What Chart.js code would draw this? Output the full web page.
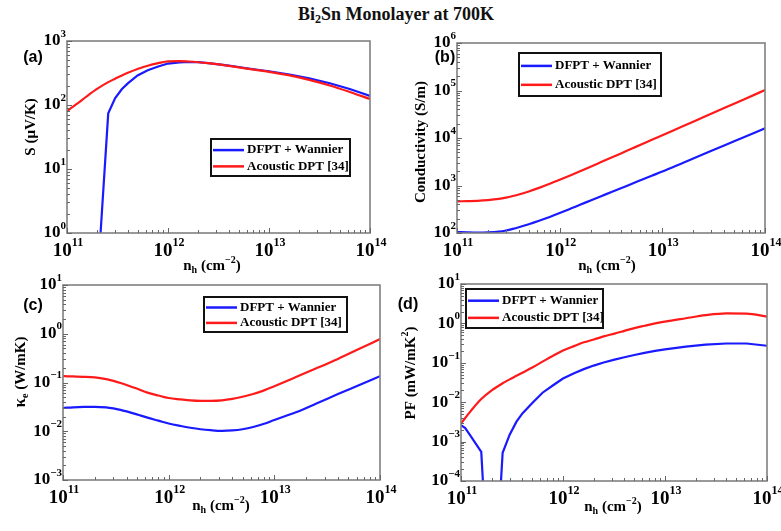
<!DOCTYPE html>
<html>
<head>
<meta charset="utf-8">
<script src="https://cdn.jsdelivr.net/npm/chart.js@4.4.0/dist/chart.umd.min.js"></script>
<style>
  body { margin: 0; background: #fff; width: 781px; height: 531px; overflow: hidden; position: relative; }
  canvas { position: absolute; left: 0; top: 0; }
  #title { position: absolute; left: 0; width: 792px; top: 4px; text-align: center;
           font: bold 18px "Liberation Serif", "Times New Roman", serif; line-height: 20px; color: #111; }
  #title sub { font-size: 12px; vertical-align: -3px; line-height: 0; }
</style>
</head>
<body>
<div id="title">Bi<sub>2</sub>Sn Monolayer at 700K</div>
<canvas id="panelA" width="781" height="531"></canvas>
<canvas id="panelB" width="781" height="531"></canvas>
<canvas id="panelC" width="781" height="531"></canvas>
<canvas id="panelD" width="781" height="531"></canvas>
<script>
// --- DATA (hole concentration in cm^-2) ---
const nh = [1e11, 1.1e11, 1.25e11, 1.58e11, 2.0e11, 2.56e11, 3.0e11, 3.5e11, 4e11, 5e11, 6.3e11, 8e11,
            1e12, 1.3e12, 1.6e12, 2e12, 2.5e12, 3.2e12, 4e12, 5e12, 6.3e12, 8e12,
            1e13, 1.6e13, 2.5e13, 4e13, 6.3e13, 1e14];

const seriesNames = ['DFPT + Wannier', 'Acoustic DPT [34]'];

// (a) Seebeck coefficient, uV/K
const seebeckDfpt = [null, null, null, null, 0.17, 74, 128, 178, 218, 290, 350, 400,
                     444, 462, 470, 466, 452, 432, 412, 392, 371, 352,
                     337, 300, 260, 219, 178, 139];
const seebeckDpt = [80, 90, 104, 138, 180, 228, 258, 290, 318, 365, 410, 450,
                    482, 485, 478, 466, 450, 430, 409, 388, 367, 347,
                    330, 290, 247, 202, 160, 124];

// (b) conductivity, S/m
const condDfpt = [105, 104, 103, 102, 103, 107, 113, 122, 132, 153, 181, 218,
                  263, 331, 398, 484, 589, 728, 885, 1079, 1318, 1622,
                  1968, 3020, 4540, 6950, 10520, 16000];
const condDpt = [464, 466, 469, 476, 492, 522, 556, 600, 646, 750, 891, 1084,
                 1318, 1671, 2023, 2483, 3069, 3882, 4797, 5929, 7379, 9268,
                 11455, 17906, 27353, 42756, 65766, 102000];

// (c) electronic thermal conductivity, W/mK
const keDfpt = [0.030, 0.0305, 0.031, 0.0315, 0.0316, 0.031, 0.0295, 0.0275, 0.0255, 0.0222, 0.0190, 0.0165,
                0.0144, 0.0128, 0.0118, 0.0110, 0.0105, 0.0102, 0.0104, 0.0110, 0.0122, 0.0142,
                0.0170, 0.0245, 0.037, 0.058, 0.088, 0.135];
const keDpt = [0.135, 0.134, 0.133, 0.131, 0.127, 0.117, 0.108, 0.098, 0.089, 0.075, 0.062, 0.054,
               0.048, 0.045, 0.043, 0.042, 0.042, 0.043, 0.046, 0.051, 0.058, 0.069,
               0.084, 0.129, 0.195, 0.305, 0.484, 0.776];

// (d) power factor, mW/mK^2
const pfDfpt = [2.6e-3, 2.2e-3, 1.35e-3, 5.5e-4, 1e-8, 5.2e-4, 1.5e-3, 3.2e-3, 5.2e-3, 9.5e-3, 0.0174, 0.0269,
                0.040, 0.055, 0.069, 0.085, 0.102, 0.120, 0.138, 0.158, 0.178, 0.200,
                0.219, 0.257, 0.288, 0.309, 0.309, 0.271];
const pfDpt = [0.00288, 0.00398, 0.00603, 0.0120, 0.0200, 0.0302, 0.0380, 0.0468, 0.0562, 0.0759, 0.107, 0.151,
               0.204, 0.269, 0.331, 0.389, 0.468, 0.550, 0.646, 0.759, 0.871, 1.0,
               1.11, 1.35, 1.62, 1.80, 1.78, 1.49];

const xExponents = [11, 12, 13, 14];

// --- STYLE ---
const W = 781, H = 531;
const SERIF = '"Liberation Serif", "Times New Roman", serif';
const BLUE = '#1a1aff';
const RED = '#ff1a1a';
const FRAME = '#808080';

// rich text: array of runs {t, s, dy}
function runsWidth(ctx, runs) {
    let w = 0;
    runs.forEach(r => { ctx.font = `bold ${r.s}px ${SERIF}`; w += ctx.measureText(r.t).width; });
    return w;
}
function drawRuns(ctx, runs, x, y, align, rotate) {
    ctx.save();
    ctx.translate(x, y);
    if (rotate) ctx.rotate(-Math.PI / 2);
    const w = runsWidth(ctx, runs);
    let cx = align === 'right' ? -w : align === 'left' ? 0 : -w / 2;
    ctx.textBaseline = 'middle';
    ctx.textAlign = 'left';
    ctx.fillStyle = '#000';
    runs.forEach(r => {
        ctx.font = `bold ${r.s}px ${SERIF}`;
        ctx.fillText(r.t, cx, r.dy || 0);
        cx += ctx.measureText(r.t).width;
    });
    ctx.restore();
}
function powRuns(e, big, small) {
    const ex = e < 0 ? '\u2212' + (-e) : String(e);
    return [{ t: '10', s: big }, { t: ex, s: small, dy: -big * 0.42 }];
}

const xTitle = [{ t: 'n', s: 15 }, { t: 'h', s: 10, dy: 4 }, { t: ' (cm', s: 15 }, { t: '\u22122', s: 10, dy: -6 }, { t: ')', s: 15 }];

const panels = [
    { id: 'panelA', area: { left: 67, top: 41, right: 370, bottom: 233 }, yExp: [0, 3], label: '(a)', labelPos: [33, 58],
      yTitle: [{ t: 'S (\u03bcV/K)', s: 15 }], yTitlePos: [31, 127], xTitlePos: [212, 266],
      legend: { x: 211, y: 139, w: 139, h: 37 }, blue: seebeckDfpt, red: seebeckDpt, blueSmooth: false },
    { id: 'panelB', area: { left: 457, top: 43, right: 765, bottom: 233 }, yExp: [2, 6], label: '(b)', labelPos: [445, 58],
      yTitle: [{ t: 'Conductivity (S/m)', s: 15 }], yTitlePos: [421, 142], xTitlePos: [607, 266],
      legend: { x: 519, y: 53, w: 142, h: 43 }, blue: condDfpt, red: condDpt, blueSmooth: true },
    { id: 'panelC', area: { left: 63, top: 285, right: 380, bottom: 480 }, yExp: [-3, 1], label: '(c)', labelPos: [33, 306],
      yTitle: [{ t: '\u03ba', s: 17 }, { t: 'e', s: 10, dy: 4 }, { t: ' (W/mK)', s: 15 }], yTitlePos: [21, 372], xTitlePos: [221, 506],
      legend: { x: 204, y: 297, w: 143, h: 35 }, blue: keDfpt, red: keDpt, blueSmooth: true },
    { id: 'panelD', area: { left: 461, top: 284, right: 767, bottom: 481 }, yExp: [-4, 1], label: '(d)', labelPos: [408, 305],
      yTitle: [{ t: 'PF (mW/mK', s: 15 }, { t: '2', s: 10, dy: -6 }, { t: ')', s: 15 }], yTitlePos: [411, 373], xTitlePos: [613, 507],
      legend: { x: 466, y: 289, w: 137, h: 39 }, blue: pfDfpt, red: pfDpt, blueSmooth: false }
];

// draws frame, inward ticks, tick labels, titles, panel tag and legend
const decorPlugin = {
    id: 'decor',
    afterDatasetsDraw(chart, args, opts) {
        const p = opts.panel;
        const ctx = chart.ctx;
        const a = chart.chartArea;
        const xs = chart.scales.x, ys = chart.scales.y;
        ctx.save();
        ctx.strokeStyle = FRAME;
        ctx.lineWidth = 1.6;
        ctx.strokeRect(a.left, a.top, a.right - a.left, a.bottom - a.top);

        ctx.lineWidth = 1;
        ctx.strokeStyle = '#666';
        ctx.beginPath();
        for (let e = xExponents[0]; e <= xExponents[xExponents.length - 1]; e++) {
            for (let m = 1; m <= 9; m++) {
                if (e === xExponents[xExponents.length - 1] && m > 1) break;
                const px = Math.round(xs.getPixelForValue(m * Math.pow(10, e))) + 0.5;
                const len = m === 1 ? 5 : 3;
                ctx.moveTo(px, a.bottom); ctx.lineTo(px, a.bottom - len);
            }
        }
        for (let e = p.yExp[0]; e <= p.yExp[1]; e++) {
            for (let m = 1; m <= 9; m++) {
                if (e === p.yExp[1] && m > 1) break;
                const py = Math.round(ys.getPixelForValue(m * Math.pow(10, e))) + 0.5;
                const len = m === 1 ? 5 : 3;
                ctx.moveTo(a.left, py); ctx.lineTo(a.left + len, py);
            }
        }
        ctx.stroke();

        xExponents.forEach(e => {
            drawRuns(ctx, powRuns(e, 19, 12), xs.getPixelForValue(Math.pow(10, e)) + 1, a.bottom + 18, 'center');
        });
        for (let e = p.yExp[0]; e <= p.yExp[1]; e++) {
            drawRuns(ctx, powRuns(e, 17, 11), a.left - 1, ys.getPixelForValue(Math.pow(10, e)), 'right');
        }

        drawRuns(ctx, xTitle, p.xTitlePos[0], p.xTitlePos[1], 'center');
        drawRuns(ctx, p.yTitle, p.yTitlePos[0], p.yTitlePos[1], 'center', true);

        ctx.font = 'bold 16px "Liberation Sans", Arial, sans-serif';
        ctx.textAlign = 'center';
        ctx.textBaseline = 'middle';
        ctx.fillStyle = '#000';
        ctx.fillText(p.label, p.labelPos[0], p.labelPos[1]);

        const lg = p.legend;
        ctx.fillStyle = '#fff';
        ctx.fillRect(lg.x, lg.y, lg.w, lg.h);
        ctx.strokeStyle = '#111';
        ctx.lineWidth = 2;
        ctx.strokeRect(lg.x, lg.y, lg.w, lg.h);
        const rowY = [lg.y + lg.h * 0.3, lg.y + lg.h * 0.74];
        chart.data.datasets.slice().sort((d1, d2) => d1.legendIndex - d2.legendIndex).forEach((ds, i) => {
            ctx.strokeStyle = ds.borderColor;
            ctx.lineWidth = 2.5;
            ctx.beginPath();
            ctx.moveTo(lg.x + 2, rowY[i]);
            ctx.lineTo(lg.x + 33, rowY[i]);
            ctx.stroke();
            drawRuns(ctx, [{ t: ds.label, s: 13 }], lg.x + 36, rowY[i], 'left');
        });
        ctx.restore();
    }
};

panels.forEach(p => {
    const a = p.area;
    new Chart(document.getElementById(p.id), {
        type: 'line',
        data: {
            datasets: [
                {
                    label: seriesNames[1], legendIndex: 1, order: 1,
                    data: nh.map((x, i) => ({ x: x, y: p.red[i] })),
                    borderColor: RED, borderWidth: 2.2, pointRadius: 0, fill: false,
                    cubicInterpolationMode: 'monotone'
                },
                {
                    label: seriesNames[0], legendIndex: 0, order: 2,
                    data: nh.map((x, i) => ({ x: x, y: p.blue[i] })),
                    borderColor: BLUE, borderWidth: 2.2, pointRadius: 0, fill: false,
                    cubicInterpolationMode: p.blueSmooth ? 'monotone' : 'default', tension: 0
                }
            ]
        },
        options: {
            responsive: false,
            animation: false,
            devicePixelRatio: 1,
            events: [],
            layout: { padding: { left: 0, top: a.top, right: W - a.right, bottom: 0 } },
            plugins: {
                legend: { display: false },
                tooltip: { enabled: false },
                decor: { panel: p }
            },
            scales: {
                x: {
                    type: 'logarithmic', min: 1e11, max: 1e14,
                    grid: { display: false }, border: { display: false }, ticks: { display: false },
                    afterFit: s => { s.height = H - a.bottom; }
                },
                y: {
                    type: 'logarithmic', min: Math.pow(10, p.yExp[0]), max: Math.pow(10, p.yExp[1]),
                    grid: { display: false }, border: { display: false }, ticks: { display: false },
                    afterFit: s => { s.width = a.left; }
                }
            }
        },
        plugins: [decorPlugin]
    });
});
</script>
</body>
</html>
